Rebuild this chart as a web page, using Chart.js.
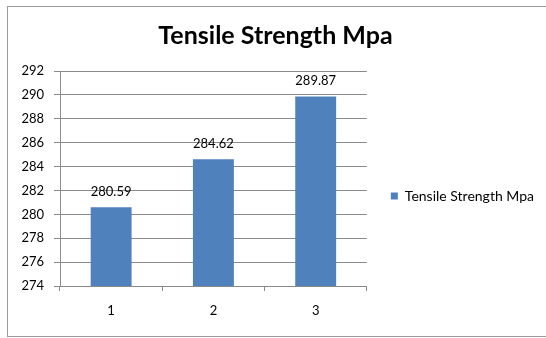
<!DOCTYPE html>
<html>
<head>
<meta charset="utf-8">
<script src="https://cdn.jsdelivr.net/npm/chart.js@4/dist/chart.umd.min.js"></script>
<style>
  body { margin: 0; background: #fff; }
</style>
</head>
<body>
<canvas id="chart" width="546" height="338"></canvas>
<script>
const categories = ["1", "2", "3"];
const strength = [280.59, 284.62, 289.87];
const seriesName = "Tensile Strength Mpa";
const yMin = 274;
const yMax = 292;
const yStep = 2;

const fontFamily = "Lato, 'Open Sans', sans-serif";
const gridColor = "#8a8a8a";

// outer frame like the office chart border
const framePlugin = {
  id: "frame",
  beforeDraw(chart) {
    const c = chart.ctx;
    c.save();
    c.fillStyle = "#fff";
    c.fillRect(0, 0, chart.width, chart.height);
    c.strokeStyle = "#9a9a9a";
    c.lineWidth = 1;
    c.strokeRect(7.5, 6.5, chart.width, 330);
    c.restore();
  },
};

// legend sits a bit lower than chart.js centres it
const legendShift = {
  id: "legendShift",
  afterLayout(chart) {
    if (chart.legend) {
      chart.legend.top += 27;
      chart.legend.bottom += 27;
    }
  },
};

// value labels above each bar
const barLabels = {
  id: "barLabels",
  afterDatasetsDraw(chart) {
    const c = chart.ctx;
    const meta = chart.getDatasetMeta(0);
    c.save();
    c.font = "13px " + fontFamily;
    c.fillStyle = "#000";
    c.textAlign = "center";
    c.textBaseline = "alphabetic";
    meta.data.forEach((bar, i) => {
      c.fillText(strength[i].toFixed(2), bar.x, bar.y - 11);
    });
    c.restore();
  },
};

let ctx = document.getElementById("chart");

const myChart = new Chart(ctx, {
  type: "bar",
  data: {
    labels: categories,
    datasets: [
      {
        label: seriesName,
        data: strength,
        backgroundColor: "#4f81bd",
        borderWidth: 0,
        barPercentage: 0.4,
        categoryPercentage: 1,
      },
    ],
  },
  options: {
    responsive: false,
    animation: false,
    layout: {
      padding: { left: 7, right: 2, top: 0, bottom: 0 },
    },
    plugins: {
      title: {
        display: true,
        text: seriesName,
        color: "#000",
        font: { family: fontFamily, size: 25, weight: "bold", lineHeight: 1.2 },
        padding: { top: 21, bottom: 20 },
      },
      legend: {
        display: true,
        position: "right",
        maxWidth: 220,
        labels: {
          boxWidth: 7,
          boxHeight: 7,
          padding: 24,
          color: "#000",
          font: { family: fontFamily, size: 14 },
        },
      },
      tooltip: { enabled: false },
    },
    scales: {
      x: {
        grid: {
          display: true,
          offset: true,
          drawOnChartArea: false,
          drawTicks: true,
          tickLength: 5,
          color: gridColor,
        },
        border: { display: true, color: gridColor },
        ticks: {
          color: "#000",
          padding: 12,
          font: { family: fontFamily, size: 13 },
        },
        afterFit(scale) {
          scale.height = 52;
        },
      },
      y: {
        min: yMin,
        max: yMax,
        grid: {
          color: gridColor,
          drawTicks: true,
          tickLength: 6,
        },
        border: { display: true, color: gridColor },
        ticks: {
          stepSize: yStep,
          color: "#000",
          padding: 10,
          font: { family: fontFamily, size: 13 },
        },
        afterFit(scale) {
          scale.width = 53;
        },
      },
    },
  },
  plugins: [framePlugin, legendShift, barLabels],
});
</script>
</body>
</html>
